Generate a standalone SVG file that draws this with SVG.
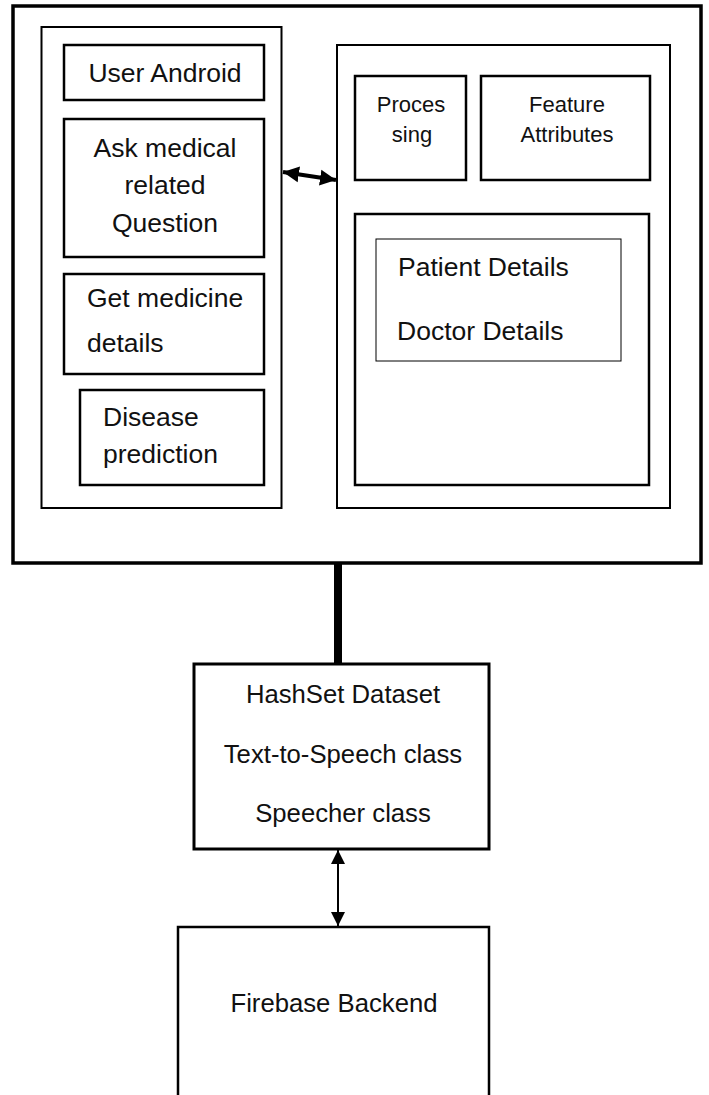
<svg xmlns="http://www.w3.org/2000/svg" width="709" height="1095" viewBox="0 0 709 1095">
<style>
  .box{fill:#fff;stroke:#000}
  .t{font-family:"Liberation Sans",Arial,sans-serif;font-size:26.5px;fill:#111}
  .ts{font-family:"Liberation Sans",Arial,sans-serif;font-size:22px;fill:#111}
  .tb{font-family:"Liberation Sans",Arial,sans-serif;font-size:25.7px;fill:#111}
  .c{text-anchor:middle}
</style>
<defs>
  <marker id="ah" viewBox="0 0 10 10" refX="10" refY="5" markerWidth="4" markerHeight="4.2" markerUnits="strokeWidth" orient="auto-start-reverse">
    <path d="M0,0 L10,5 L0,10 z" fill="#000"/>
  </marker>
  <marker id="ah2" viewBox="0 0 10 10" refX="10" refY="5" markerWidth="7" markerHeight="8" markerUnits="strokeWidth" orient="auto-start-reverse">
    <path d="M0,0 L10,5 L0,10 z" fill="#000"/>
  </marker>
</defs>
<g id="system">
  <rect class="box" x="13" y="6" width="688" height="557" stroke-width="3.5"/>
</g>
<g id="client-panel">
  <rect class="box" x="41.5" y="27" width="240" height="481" stroke-width="2"/>
</g>
<g id="user-android">
  <rect class="box" x="64" y="45" width="200" height="55" stroke-width="2.5"/>
  <text class="t c" x="165" y="82">User Android</text>
</g>
<g id="ask-question">
  <rect class="box" x="64" y="119" width="200" height="138" stroke-width="2.5"/>
  <text class="t c" x="165" y="157">Ask medical</text>
  <text class="t c" x="165" y="194">related</text>
  <text class="t c" x="165" y="232">Question</text>
</g>
<g id="medicine-details">
  <rect class="box" x="64" y="274" width="200" height="100" stroke-width="2.5"/>
  <text class="t" x="87" y="307">Get medicine</text>
  <text class="t" x="87" y="352">details</text>
</g>
<g id="disease-prediction">
  <rect class="box" x="80" y="390" width="184" height="95" stroke-width="2.5"/>
  <text class="t" x="103" y="426">Disease</text>
  <text class="t" x="103" y="463">prediction</text>
</g>
<g id="server-panel">
  <rect class="box" x="337" y="45" width="333" height="463" stroke-width="2"/>
</g>
<g id="processing">
  <rect class="box" x="355" y="76" width="111" height="104" stroke-width="2.5"/>
  <text class="ts c" x="411" y="112">Proces</text>
  <text class="ts c" x="412" y="142">sing</text>
</g>
<g id="feature-attributes">
  <rect class="box" x="481" y="76" width="169" height="104" stroke-width="2.5"/>
  <text class="ts c" x="567" y="112">Feature</text>
  <text class="ts c" x="567" y="142">Attributes</text>
</g>
<g id="details-container">
  <rect class="box" x="355" y="214" width="294" height="271" stroke-width="2.5"/>
</g>
<g id="details">
  <rect class="box" x="376" y="239" width="245" height="122" stroke-width="1"/>
  <text class="t" x="398" y="276">Patient Details</text>
  <text class="t" x="397" y="340">Doctor Details</text>
</g>
<g id="hashset">
  <rect class="box" x="194" y="664" width="295" height="185" stroke-width="3"/>
  <text class="tb c" x="343" y="703">HashSet Dataset</text>
  <text class="tb c" x="343" y="763">Text-to-Speech class</text>
  <text class="tb c" x="343" y="822">Speecher class</text>
</g>
<g id="firebase">
  <path class="box" d="M178,1096 V927 H489 V1096" stroke-width="2.5"/>
  <text class="tb c" x="334" y="1012">Firebase Backend</text>
</g>
<g id="connectors">
  <line x1="283" y1="172" x2="336" y2="180" stroke="#000" stroke-width="4" marker-start="url(#ah)" marker-end="url(#ah)"/>
  <line x1="338" y1="563" x2="338" y2="664" stroke="#000" stroke-width="8"/>
  <line x1="338" y1="850" x2="338" y2="926" stroke="#000" stroke-width="2" marker-start="url(#ah2)" marker-end="url(#ah2)"/>
</g>
</svg>
